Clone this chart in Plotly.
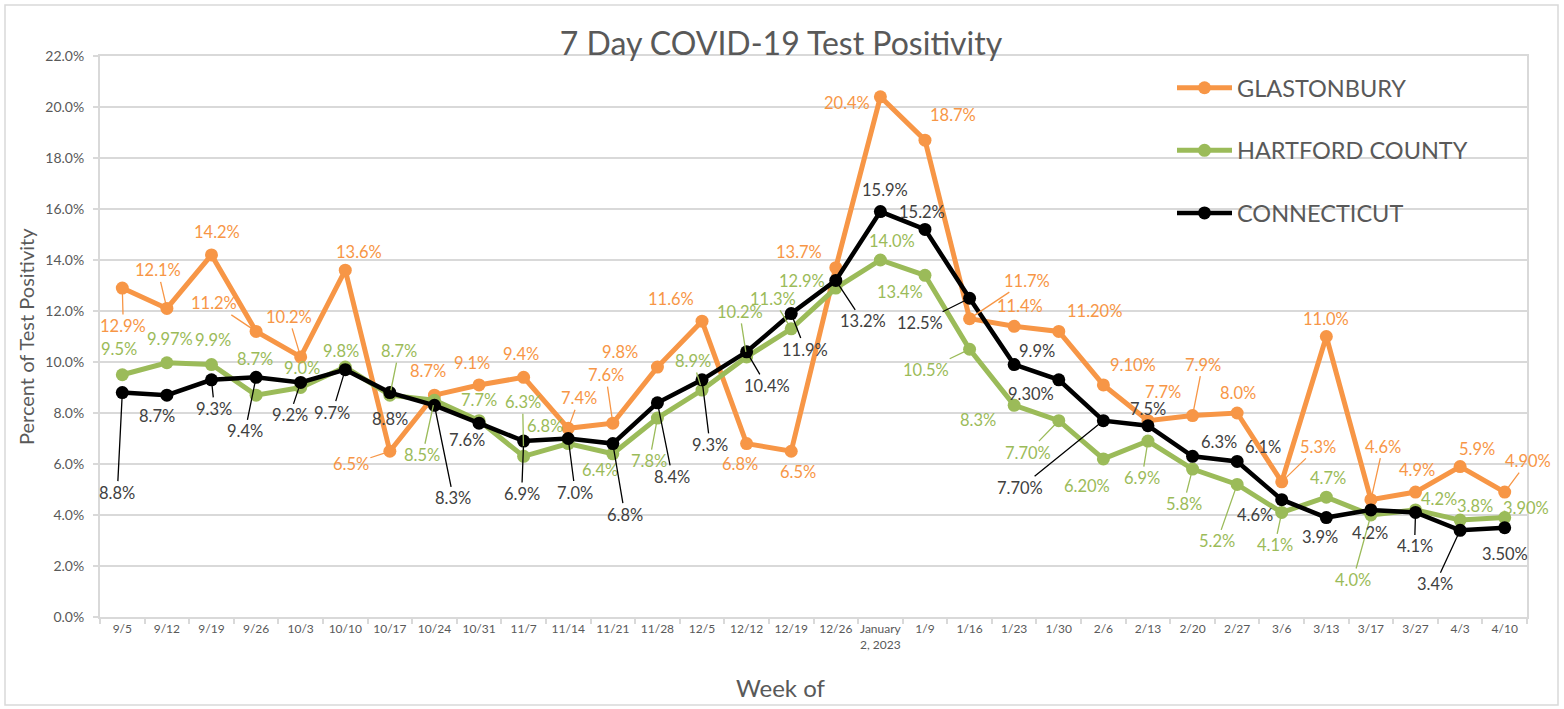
import plotly.graph_objects as go

# ---------------- data ----------------
weeks = ["9/5", "9/12", "9/19", "9/26", "10/3", "10/10", "10/17", "10/24", "10/31", "11/7",
         "11/14", "11/21", "11/28", "12/5", "12/12", "12/19", "12/26", "January<br>2, 2023",
         "1/9", "1/16", "1/23", "1/30", "2/6", "2/13", "2/20", "2/27", "3/6", "3/13",
         "3/17", "3/27", "4/3", "4/10"]

glastonbury = [12.9, 12.1, 14.2, 11.2, 10.2, 13.6, 6.5, 8.7, 9.1, 9.4, 7.4, 7.6, 9.8, 11.6,
               6.8, 6.5, 13.7, 20.4, 18.7, 11.7, 11.4, 11.2, 9.1, 7.7, 7.9, 8.0, 5.3, 11.0,
               4.6, 4.9, 5.9, 4.9]
glastonbury_labels = ["12.9%", "12.1%", "14.2%", "11.2%", "10.2%", "13.6%", "6.5%", "8.7%",
                      "9.1%", "9.4%", "7.4%", "7.6%", "9.8%", "11.6%", "6.8%", "6.5%", "13.7%",
                      "20.4%", "18.7%", "11.7%", "11.4%", "11.20%", "9.10%", "7.7%", "7.9%",
                      "8.0%", "5.3%", "11.0%", "4.6%", "4.9%", "5.9%", "4.90%"]

hartford = [9.5, 9.97, 9.9, 8.7, 9.0, 9.8, 8.7, 8.5, 7.7, 6.3, 6.8, 6.4, 7.8, 8.9, 10.2, 11.3,
            12.9, 14.0, 13.4, 10.5, 8.3, 7.7, 6.2, 6.9, 5.8, 5.2, 4.1, 4.7, 4.0, 4.2, 3.8, 3.9]
hartford_labels = ["9.5%", "9.97%", "9.9%", "8.7%", "9.0%", "9.8%", "8.7%", "8.5%", "7.7%",
                   "6.3%", "6.8%", "6.4%", "7.8%", "8.9%", "10.2%", "11.3%", "12.9%", "14.0%",
                   "13.4%", "10.5%", "8.3%", "7.70%", "6.20%", "6.9%", "5.8%", "5.2%", "4.1%",
                   "4.7%", "4.0%", "4.2%", "3.8%", "3.90%"]

connecticut = [8.8, 8.7, 9.3, 9.4, 9.2, 9.7, 8.8, 8.3, 7.6, 6.9, 7.0, 6.8, 8.4, 9.3, 10.4, 11.9,
               13.2, 15.9, 15.2, 12.5, 9.9, 9.3, 7.7, 7.5, 6.3, 6.1, 4.6, 3.9, 4.2, 4.1, 3.4, 3.5]
connecticut_labels = ["8.8%", "8.7%", "9.3%", "9.4%", "9.2%", "9.7%", "8.8%", "8.3%", "7.6%",
                      "6.9%", "7.0%", "6.8%", "8.4%", "9.3%", "10.4%", "11.9%", "13.2%", "15.9%",
                      "15.2%", "12.5%", "9.9%", "9.30%", "7.70%", "7.5%", "6.3%", "6.1%", "4.6%",
                      "3.9%", "4.2%", "4.1%", "3.4%", "3.50%"]

# ---------------- label placement (pixel offsets from point, leader line flag) ----------------
glas_off = [(1, 38, 1), (-9, -38, 1), (6, -23, 0), (-42, -28, 1), (-12, -40, 1), (14, -18, 0),
            (-39, 13, 1), (-6, -24, 0), (-7, -22, 0), (-3, -23, 0), (11, -30, 1), (-7, -48, 1),
            (-37, -15, 0), (-31, -22, 0), (-7, 20, 0), (7, 21, 0), (-37, -16, 0), (-33, 6, 0),
            (28, -25, 0), (57, -38, 1), (6, -20, 0), (36, -20, 0), (30, -20, 0), (15, -29, 0),
            (10, -51, 1), (1, -20, 0), (36, -35, 1), (0, -18, 0), (12, -53, 1), (1, -22, 0),
            (17, -18, 0), (23, -31, 1)]
hart_off = [(-3, -26, 0), (3, -24, 0), (2, -25, 0), (-1, -36, 0), (1, -20, 0), (-4, -16, 0),
            (9, -44, 1), (-12, 55, 1), (0, -21, 0), (-1, -54, 1), (-23, -18, 0), (-13, 16, 0),
            (-8, 43, 1), (-9, -29, 1), (-7, -45, 1), (-18, -30, 1), (-34, -7, 0), (12, -19, 0),
            (-25, 17, 0), (-44, 21, 1), (-36, 15, 0), (-31, 32, 1), (-16, 27, 0), (-6, 37, 1),
            (-9, 35, 1), (-20, 57, 1), (-7, 33, 1), (2, -19, 0), (-18, 65, 1), (23, -11, 0),
            (15, -14, 0), (21, -10, 0)]
conn_off = [(-5, 100, 1), (-10, 21, 0), (3, 29, 1), (-11, 54, 1), (-11, 33, 1), (-13, 43, 1),
            (0, 26, 0), (19, 93, 1), (-12, 17, 0), (-2, 53, 1), (7, 54, 1), (12, 71, 1),
            (15, 74, 1), (8, 65, 1), (20, 34, 1), (14, 36, 1), (27, 41, 1), (5, -22, 0),
            (-3, -17, 0), (-50, 25, 1), (23, -14, 0), (-28, 14, 0), (-83, 67, 1), (0, -17, 0),
            (26, -14, 0), (26, -14, 0), (-27, 15, 0), (-6, 19, 0), (-1, 23, 0), (-1, 34, 1),
            (-25, 54, 1), (0, 26, 0)]

ORANGE = "#F79646"
GREEN = "#9BBB59"
BLACK = "#000000"
GRID = "#D9D9D9"
TXT = "#595959"
FONT = "Lato, 'Open Sans', sans-serif"

# plot area in pixels
L, R, T, B = 100, 1527, 56, 617
W, H = 1564, 709


def px_x(px):
    return (px - L) / (R - L)


def px_y(py):
    return (B - py) / (B - T)


fig = go.Figure()

series = [
    ("GLASTONBURY", glastonbury, glastonbury_labels, glas_off, ORANGE, ORANGE, 5),
    ("HARTFORD COUNTY", hartford, hartford_labels, hart_off, GREEN, GREEN, 5),
    ("CONNECTICUT", connecticut, connecticut_labels, conn_off, BLACK, "#404040", 4.5),
]

annotations = []
for name, vals, labels, offs, color, lblcolor, lw in series:
    fig.add_trace(go.Scatter(
        x=weeks, y=vals, name=name, mode="lines+markers",
        line=dict(color=color, width=lw),
        marker=dict(color=color, size=13),
        legendgroup=name, cliponaxis=False,
    ))
    for w, v, t, (dx, dy, lead) in zip(weeks, vals, labels, offs):
        annotations.append(dict(
            x=w, y=v, xref="x", yref="y", text=t,
            showarrow=True, ax=dx, ay=dy, axref="pixel", ayref="pixel",
            arrowhead=0, arrowwidth=1.3, standoff=5,
            arrowcolor=color if lead else "rgba(0,0,0,0)",
            font=dict(family=FONT, size=16.5, color=lblcolor),
        ))

# axis titles
annotations.append(dict(x=px_x(26), y=px_y(337), xref="paper", yref="paper",
                        text="Percent of Test Positivity", textangle=-90, showarrow=False,
                        font=dict(family=FONT, size=20, color=TXT), xanchor="center", yanchor="middle"))
annotations.append(dict(x=px_x(781), y=px_y(687), xref="paper", yref="paper",
                        text="Week of", showarrow=False,
                        font=dict(family=FONT, size=24, color=TXT), xanchor="center", yanchor="middle"))

fig.update_layout(
    width=W, height=H,
    margin=dict(l=L, r=W - R, t=T, b=H - B),
    paper_bgcolor="white", plot_bgcolor="white",
    title=dict(text="7 Day COVID-19 Test Positivity", x=781 / W, xanchor="center",
               xref="container", yref="container", y=1 - 44 / H, yanchor="middle",
               font=dict(family=FONT, size=32, color=TXT)),
    font=dict(family=FONT, color=TXT),
    showlegend=True,
    legend=dict(x=px_x(1172), y=px_y(66), xanchor="left", yanchor="top",
                bgcolor="rgba(0,0,0,0)", font=dict(family=FONT, size=23.5, color=TXT),
                traceorder="grouped", tracegroupgap=29, itemwidth=55),
    annotations=annotations,
    shapes=[dict(type="rect", xref="paper", yref="paper",
                 x0=px_x(5), x1=px_x(1558), y0=px_y(705), y1=px_y(5),
                 line=dict(color=GRID, width=1.5), layer="below")],
    xaxis=dict(type="category", range=[-0.5, len(weeks) - 0.5], showgrid=False,
               showline=True, linecolor=GRID, linewidth=2, mirror=True,
               ticks="outside", ticklen=5, tickcolor=GRID, tickwidth=1.5,
               tickson="boundaries", tickangle=0,
               tickfont=dict(family=FONT, size=12, color=TXT)),
    yaxis=dict(range=[0, 22], dtick=2, tickformat=".1f", ticksuffix="%",
               showgrid=True, gridcolor=GRID, gridwidth=1.5, zeroline=False,
               showline=True, linecolor=GRID, linewidth=2, mirror=True,
               ticks="outside", ticklen=5, tickcolor=GRID, tickwidth=1.5,
               ticklabelstandoff=6,
               tickfont=dict(family=FONT, size=14, color=TXT)),
)

fig.write_html("out.html", config={"displayModeBar": False},
               post_script="document.body.style.margin='0';")
